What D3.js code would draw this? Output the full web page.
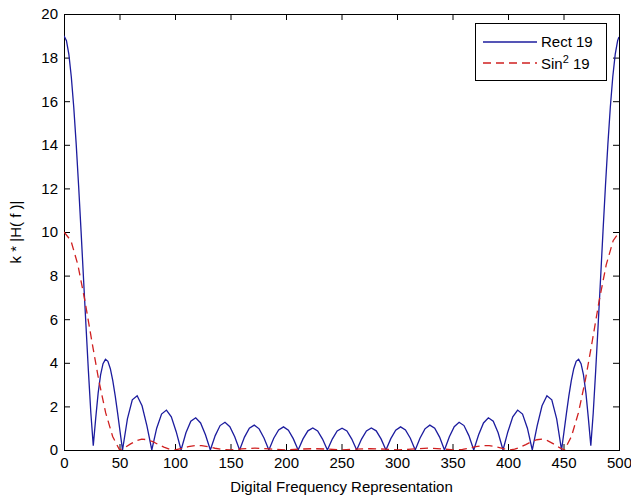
<!DOCTYPE html>
<html>
<head>
<meta charset="utf-8">
<script src="https://cdn.jsdelivr.net/npm/d3@7/dist/d3.min.js"></script>
<style>
    body {
        margin: 0;
        background: #fff;
    }
    svg {
        display: block;
        font-family: "Liberation Sans", Arial, sans-serif;
    }
</style>
</head>
<body>
<script>
// Rect 19 曲线的横坐标
const rectFreq = [
    0, 2.20, 4.39, 6.59, 8.79, 10.99, 13.18, 15.38, 17.58, 19.78, 21.97, 24.17, 26.37,
    28.56, 30.76, 32.96, 35.16, 37.35, 39.55, 41.75, 43.95, 46.14, 48.34, 50.54, 52.73,
    57.13, 61.52, 65.92, 70.31, 74.71, 79.10,
    83.50, 87.89, 92.28, 96.68, 101.07, 105.47,
    109.86, 114.26, 118.65, 123.05, 127.44, 131.84,
    136.23, 140.62, 145.02, 149.41, 153.81, 158.20,
    162.60, 166.99, 171.39, 175.78, 180.17, 184.57,
    188.96, 193.36, 197.75, 202.15, 206.54, 210.94,
    215.33, 219.73, 224.12, 228.51, 232.91, 237.30,
    241.70, 246.09, 250.49, 254.88, 259.28, 263.67,
    268.07, 272.46, 276.86, 281.25, 285.64, 290.04,
    294.43, 298.83, 303.22, 307.62, 312.01, 316.41,
    320.80, 325.19, 329.59, 333.98, 338.38, 342.77,
    347.17, 351.56, 355.96, 360.35, 364.75, 369.14,
    373.54, 377.93, 382.32, 386.72, 391.11, 395.51,
    399.90, 404.30, 408.69, 413.09, 417.48, 421.88,
    426.27, 430.66, 435.06, 439.45, 443.85, 448.24,
    450.44, 452.64, 454.83, 457.03, 459.23, 461.42, 463.62, 465.82, 468.01, 470.21, 472.41, 474.61,
    476.80, 479.00, 481.20, 483.40, 485.59, 487.79, 489.99, 492.18, 494.38, 496.58, 498.77, 500
];

// Rect 19 曲线的幅值
const rectMag = [
    19.00, 18.78, 18.15, 17.11, 15.72, 14.03, 12.11, 10.03, 7.87, 5.72, 3.64, 1.71, 0.2,
    1.45, 2.61, 3.45, 3.96, 4.16, 4.07, 3.73, 3.18, 2.48, 1.68, 0.83, 0,
    1.43, 2.30, 2.49, 2.03, 1.11, 0,
    1.00, 1.65, 1.83, 1.52, 0.84, 0,
    0.79, 1.32, 1.48, 1.24, 0.70, 0,
    0.66, 1.12, 1.27, 1.07, 0.61, 0,
    0.59, 1.00, 1.14, 0.97, 0.55, 0,
    0.54, 0.92, 1.06, 0.91, 0.52, 0,
    0.51, 0.88, 1.01, 0.87, 0.50, 0,
    0.50, 0.87, 1.00, 0.87, 0.50, 0,
    0.50, 0.87, 1.01, 0.88, 0.51, 0,
    0.52, 0.91, 1.06, 0.92, 0.54, 0,
    0.55, 0.97, 1.14, 1.00, 0.59, 0,
    0.61, 1.07, 1.27, 1.12, 0.66, 0,
    0.70, 1.24, 1.48, 1.32, 0.79, 0,
    0.84, 1.52, 1.83, 1.65, 1.00, 0,
    1.11, 2.03, 2.49, 2.30, 1.43, 0,
    0.83, 1.68, 2.48, 3.18, 3.73, 4.07, 4.16, 3.96, 3.45, 2.61, 1.45, 0.2,
    1.71, 3.64, 5.72, 7.87, 10.03, 12.11, 14.03, 15.72, 17.11, 18.15, 18.78, 18.95
];

// Sin^2 19 曲线的横坐标
const sinFreq = [
    0, 6.26, 12.52, 18.79, 25.05, 31.31, 37.57, 43.84, 50.10,
    55, 60, 65, 70, 75, 80, 85, 90, 95, 100,
    106, 112, 118, 124, 130, 136, 142, 150,
    160, 172, 185, 200,
    212, 225, 238, 250,
    263, 276, 289, 301,
    316, 329, 341, 351,
    359, 365, 371, 377, 383, 389, 395, 401,
    406, 411, 416, 421, 426, 431, 436, 441, 446, 450.88,
    457.14, 463.41, 469.67, 475.93, 482.19, 488.46, 494.72, 500
];

// Sin^2 19 曲线的幅值
const sinMag = [
    10.00, 9.60, 8.49, 6.86, 5.00, 3.20, 1.70, 0.62, 0,
    0.12, 0.28, 0.42, 0.50, 0.47, 0.38, 0.25, 0.13, 0.04, 0,
    0.07, 0.15, 0.20, 0.20, 0.15, 0.08, 0.03, 0,
    0.05, 0.09, 0.05, 0,
    0.04, 0.06, 0.04, 0,
    0.04, 0.06, 0.04, 0,
    0.05, 0.09, 0.05, 0,
    0.03, 0.08, 0.15, 0.20, 0.20, 0.15, 0.07, 0,
    0.04, 0.13, 0.25, 0.38, 0.47, 0.50, 0.42, 0.28, 0.12, 0,
    0.62, 1.70, 3.20, 5.00, 6.86, 8.49, 9.60, 9.99
];

// 刻度
const xTicks = [0, 50, 100, 150, 200, 250, 300, 350, 400, 450, 500];
const yTicks = [0, 2, 4, 6, 8, 10, 12, 14, 16, 18, 20];

// svg区域大小
const width = 631;
const height = 502;
const padding = {
    top: 14,
    right: 12,
    bottom: 52,
    left: 64
};
const tickLen = 6;

const svg = d3.select('body')
    .append('svg')
    .attr('width', width)
    .attr('height', height);

const x = d3.scaleLinear()
    .domain([0, 500])
    .range([padding.left, width - padding.right]);
const y = d3.scaleLinear()
    .domain([0, 20])
    .range([height - padding.bottom, padding.top]);

// 画坐标轴
drawAxes();

// 画曲线
drawCurve(rectFreq, rectMag, '#1c1c9e', null);
drawCurve(sinFreq, sinMag, '#d02020', '8,5');

// 图例
drawLegend();

/**
 * 坐标轴、刻度和标题
 */
function drawAxes() {
    const plotBottom = height - padding.bottom;
    const plotRight = width - padding.right;

    const axes = [
        [d3.axisBottom(x), `translate(0,${plotBottom})`, true],
        [d3.axisTop(x), `translate(0,${padding.top})`, false],
        [d3.axisLeft(y), `translate(${padding.left},0)`, true],
        [d3.axisRight(y), `translate(${plotRight},0)`, false]
    ];
    axes.forEach(([axis, transform, labels], i) => {
        axis.tickValues(i < 2 ? xTicks : yTicks)
            .tickSizeInner(-tickLen)
            .tickSizeOuter(0)
            .tickPadding(i < 2 ? 7 : 6);
        if (!labels) {
            axis.tickFormat('');
        }
        const g = svg.append('g')
            .attr('transform', transform)
            .call(axis);
        g.select('.domain').remove();
        g.selectAll('.tick line').attr('stroke', '#000');
        g.selectAll('.tick text')
            .attr('fill', '#000')
            .attr('font-size', '15px')
            .attr('font-family', '"Liberation Sans", Arial, sans-serif');
    });

    // 外框
    svg.append('rect')
        .attr('x', padding.left)
        .attr('y', padding.top)
        .attr('width', plotRight - padding.left)
        .attr('height', plotBottom - padding.top)
        .attr('fill', 'none')
        .attr('stroke', '#000')
        .attr('shape-rendering', 'crispEdges');

    svg.append('text')
        .attr('x', (padding.left + plotRight) / 2)
        .attr('y', height - 10)
        .attr('text-anchor', 'middle')
        .attr('font-size', '15px')
        .text('Digital Frequency Representation');

    svg.append('text')
        .attr('transform', `translate(21,${(padding.top + plotBottom) / 2}) rotate(-90)`)
        .attr('text-anchor', 'middle')
        .attr('font-size', '15px')
        .text('k * |H( f )|');

    svg.append('clipPath')
        .attr('id', 'plot-clip')
        .append('rect')
        .attr('x', padding.left)
        .attr('y', padding.top)
        .attr('width', plotRight - padding.left)
        .attr('height', plotBottom - padding.top);
}

/**
 * 画一条曲线
 *
 * @param {Array} freq 横坐标
 * @param {Array} mag 幅值
 * @param {string} color 颜色
 * @param {string} dash 虚线样式
 */
function drawCurve(freq, mag, color, dash) {
    const line = d3.line()
        .x((d, i) => x(freq[i]))
        .y(d => y(d));
    svg.append('path')
        .datum(mag)
        .attr('clip-path', 'url(#plot-clip)')
        .attr('fill', 'none')
        .attr('stroke', color)
        .attr('stroke-width', 1.3)
        .attr('stroke-dasharray', dash)
        .attr('d', line);
}

/**
 * 图例
 */
function drawLegend() {
    const box = {x: 475, y: 23, w: 131, h: 57};
    const g = svg.append('g');
    g.append('rect')
        .attr('x', box.x)
        .attr('y', box.y)
        .attr('width', box.w)
        .attr('height', box.h)
        .attr('fill', '#fff')
        .attr('stroke', '#000')
        .attr('shape-rendering', 'crispEdges');

    const rows = [
        {y: 42, color: '#1c1c9e', dash: null},
        {y: 63, color: '#d02020', dash: '8,5'}
    ];
    rows.forEach(r => {
        g.append('line')
            .attr('x1', 483)
            .attr('x2', 537)
            .attr('y1', r.y)
            .attr('y2', r.y)
            .attr('stroke', r.color)
            .attr('stroke-width', 1.3)
            .attr('stroke-dasharray', r.dash);
    });

    g.append('text')
        .attr('x', 541)
        .attr('y', 47)
        .attr('font-size', '15px')
        .text('Rect 19');

    const t = g.append('text')
        .attr('x', 541)
        .attr('y', 69)
        .attr('font-size', '15px');
    t.append('tspan').text('Sin');
    t.append('tspan')
        .attr('dy', -6)
        .attr('font-size', '11px')
        .text('2');
    t.append('tspan')
        .attr('dy', 6)
        .text(' 19');
}
</script>
</body>
</html>
